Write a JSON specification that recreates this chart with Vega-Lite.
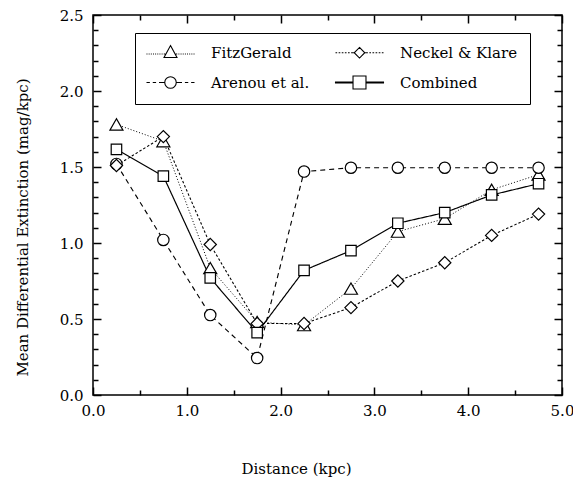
{
  "$schema": "https://vega.github.io/schema/vega-lite/v6.json",
  "width": 469,
  "height": 380,
  "autosize": {"type": "none"},
  "padding": {"left": 93, "top": 15, "right": 11, "bottom": 84},
  "background": "white",
  "config": {
    "view": {"stroke": "black", "strokeWidth": 1.5},
    "font": "DejaVu Serif",
    "axis": {
      "domain": false,
      "grid": false,
      "labelFont": "DejaVu Serif",
      "labelFontSize": 15,
      "labelColor": "black",
      "titleFont": "DejaVu Serif",
      "titleFontSize": 15,
      "titleFontWeight": "normal",
      "titleColor": "black",
      "labelFlush": false,
      "labelOverlap": false
    }
  },
  "data": {
    "values": [
      {"series": "FitzGerald", "distance": 0.25, "extinction": 1.78},
      {"series": "FitzGerald", "distance": 0.75, "extinction": 1.67},
      {"series": "FitzGerald", "distance": 1.25, "extinction": 0.835},
      {"series": "FitzGerald", "distance": 1.75, "extinction": 0.48},
      {"series": "FitzGerald", "distance": 2.25, "extinction": 0.46},
      {"series": "FitzGerald", "distance": 2.75, "extinction": 0.70},
      {"series": "FitzGerald", "distance": 3.25, "extinction": 1.075},
      {"series": "FitzGerald", "distance": 3.75, "extinction": 1.16},
      {"series": "FitzGerald", "distance": 4.25, "extinction": 1.35},
      {"series": "FitzGerald", "distance": 4.75, "extinction": 1.45},
      {"series": "Arenou et al.", "distance": 0.25, "extinction": 1.52},
      {"series": "Arenou et al.", "distance": 0.75, "extinction": 1.02},
      {"series": "Arenou et al.", "distance": 1.25, "extinction": 0.526},
      {"series": "Arenou et al.", "distance": 1.75, "extinction": 0.243},
      {"series": "Arenou et al.", "distance": 2.25, "extinction": 1.47},
      {"series": "Arenou et al.", "distance": 2.75, "extinction": 1.495},
      {"series": "Arenou et al.", "distance": 3.25, "extinction": 1.495},
      {"series": "Arenou et al.", "distance": 3.75, "extinction": 1.495},
      {"series": "Arenou et al.", "distance": 4.25, "extinction": 1.495},
      {"series": "Arenou et al.", "distance": 4.75, "extinction": 1.495},
      {"series": "Neckel & Klare", "distance": 0.25, "extinction": 1.51},
      {"series": "Neckel & Klare", "distance": 0.75, "extinction": 1.70},
      {"series": "Neckel & Klare", "distance": 1.25, "extinction": 0.99},
      {"series": "Neckel & Klare", "distance": 1.75, "extinction": 0.47},
      {"series": "Neckel & Klare", "distance": 2.25, "extinction": 0.47},
      {"series": "Neckel & Klare", "distance": 2.75, "extinction": 0.575},
      {"series": "Neckel & Klare", "distance": 3.25, "extinction": 0.75},
      {"series": "Neckel & Klare", "distance": 3.75, "extinction": 0.87},
      {"series": "Neckel & Klare", "distance": 4.25, "extinction": 1.05},
      {"series": "Neckel & Klare", "distance": 4.75, "extinction": 1.19},
      {"series": "Combined", "distance": 0.25, "extinction": 1.616},
      {"series": "Combined", "distance": 0.75, "extinction": 1.44},
      {"series": "Combined", "distance": 1.25, "extinction": 0.77},
      {"series": "Combined", "distance": 1.75, "extinction": 0.41},
      {"series": "Combined", "distance": 2.25, "extinction": 0.82},
      {"series": "Combined", "distance": 2.75, "extinction": 0.95},
      {"series": "Combined", "distance": 3.25, "extinction": 1.13},
      {"series": "Combined", "distance": 3.75, "extinction": 1.20},
      {"series": "Combined", "distance": 4.25, "extinction": 1.316},
      {"series": "Combined", "distance": 4.75, "extinction": 1.39}
    ]
  },
  "layer": [
    {
      "mark": {"type": "line", "color": "black"},
      "encoding": {
        "x": {
          "field": "distance", "type": "quantitative",
          "scale": {"domain": [0, 5], "nice": false, "zero": false},
          "axis": {
            "orient": "bottom",
            "ticks": true,
            "tickSize": -8,
            "tickWidth": 1.5,
            "tickColor": "black",
            "labelPadding": 16,
            "title": "Distance (kpc)",
            "titleX": 203,
            "titleY": 73,
            "titleAlign": "center",
            "titleBaseline": "middle",
            "values": [0, 1, 2, 3, 4, 5],
            "format": ".1f"
          }
        },
        "y": {
          "field": "extinction", "type": "quantitative",
          "scale": {"domain": [0, 2.5], "nice": false},
          "axis": {
            "orient": "left",
            "ticks": true,
            "tickSize": -8,
            "tickWidth": 1.5,
            "tickColor": "black",
            "labelPadding": 18,
            "title": "Mean Differential Extinction (mag/kpc)",
            "titleX": -71,
            "titleY": 212,
            "titleAngle": -90,
            "titleAlign": "center",
            "titleBaseline": "middle",
            "values": [0, 0.5, 1, 1.5, 2, 2.5],
            "format": ".1f"
          }
        },
        "strokeDash": {
          "field": "series", "type": "nominal",
          "scale": {"domain": ["FitzGerald", "Neckel & Klare", "Arenou et al.", "Combined"], "range": [[1, 2], [2.5, 2], [5, 4], [1, 0]]},
          "legend": null
        },
        "strokeWidth": {
          "field": "series", "type": "nominal",
          "scale": {"domain": ["FitzGerald", "Neckel & Klare", "Arenou et al.", "Combined"], "range": [1, 1.2, 1.1, 2.5]},
          "legend": null
        }
      }
    },
    {
      "mark": {"type": "point", "filled": true, "fill": "white", "stroke": "black", "strokeWidth": 1.2, "opacity": 1},
      "encoding": {
        "x": {
          "field": "distance", "type": "quantitative",
          "axis": {"orient": "top", "ticks": true, "tickSize": -8, "tickWidth": 1.5, "tickColor": "black", "title": null, "labels": false, "values": [0, 1, 2, 3, 4, 5]}
        },
        "y": {
          "field": "extinction", "type": "quantitative",
          "axis": {"orient": "right", "ticks": true, "tickSize": -8, "tickWidth": 1.5, "tickColor": "black", "title": null, "labels": false, "values": [0, 0.5, 1, 1.5, 2, 2.5]}
        },
        "shape": {
          "field": "series", "type": "nominal",
          "scale": {"domain": ["FitzGerald", "Neckel & Klare", "Arenou et al.", "Combined"], "range": ["triangle-up", "diamond", "circle", "square"]},
          "legend": null
        },
        "size": {
          "field": "series", "type": "nominal",
          "scale": {"domain": ["FitzGerald", "Neckel & Klare", "Arenou et al.", "Combined"], "range": [170, 110, 115, 200]},
          "legend": null
        }
      }
    },
    {
      "mark": {"type": "point", "opacity": 0, "color": "black"},
      "encoding": {
        "x": {
          "field": "distance", "type": "quantitative",
          "axis": {"orient": "bottom", "ticks": true, "tickSize": -5, "tickWidth": 1.5, "tickColor": "black", "title": null, "labels": false, "values": [0.5, 1.5, 2.5, 3.5, 4.5]}
        },
        "y": {
          "field": "extinction", "type": "quantitative",
          "axis": {"orient": "left", "ticks": true, "tickSize": -5, "tickWidth": 1.5, "tickColor": "black", "title": null, "labels": false, "values": [0.1, 0.2, 0.3, 0.4, 0.6, 0.7, 0.8, 0.9, 1.1, 1.2, 1.3, 1.4, 1.6, 1.7, 1.8, 1.9, 2.1, 2.2, 2.3, 2.4]}
        }
      }
    },
    {
      "mark": {"type": "point", "opacity": 0, "color": "black"},
      "encoding": {
        "x": {
          "field": "distance", "type": "quantitative",
          "axis": {"orient": "top", "ticks": true, "tickSize": -5, "tickWidth": 1.5, "tickColor": "black", "title": null, "labels": false, "values": [0.5, 1.5, 2.5, 3.5, 4.5]}
        },
        "y": {
          "field": "extinction", "type": "quantitative",
          "axis": {"orient": "right", "ticks": true, "tickSize": -5, "tickWidth": 1.5, "tickColor": "black", "title": null, "labels": false, "values": [0.1, 0.2, 0.3, 0.4, 0.6, 0.7, 0.8, 0.9, 1.1, 1.2, 1.3, 1.4, 1.6, 1.7, 1.8, 1.9, 2.1, 2.2, 2.3, 2.4]}
        },
        "shape": {
          "field": "series", "type": "nominal",
          "scale": {
            "domain": ["FitzGerald", "Arenou et al.", "Neckel & Klare", "Combined"],
            "range": [
              "M-1.333,0.2L-1.173,0.2M-0.973,0.2L-0.813,0.2M-0.613,0.2L-0.453,0.2M-0.253,0.2L-0.093,0.2M0.107,0.2L0.267,0.2M0.467,0.2L0.627,0.2M0.827,0.2L0.987,0.2M1.187,0.2L1.347,0.2M1.547,0.2L1.787,0.2M3.547,0.2L3.787,0.2M3.987,0.2L4.147,0.2M4.347,0.2L4.507,0.2M4.707,0.2L4.867,0.2M5.067,0.2L5.227,0.2M5.427,0.2L5.587,0.2M5.787,0.2L5.947,0.2M6.147,0.2L6.307,0.2M6.507,0.2L6.667,0.2M2.667,-1.2L3.747,0.8L1.587,0.8Z",
              "M-1.333,0L-0.773,0M-0.293,0L0.267,0M0.747,0L1.627,0M3.707,0L4.587,0M5.067,0L5.627,0M6.107,0L6.667,0M1.707,0A0.96,0.96,0,1,0,3.627,0A0.96,0.96,0,1,0,1.707,0Z",
              "M-1.333,0L-1.053,0M-0.813,0L-0.533,0M-0.293,0L-0.013,0M0.227,0L0.507,0M0.747,0L1.027,0M1.267,0L1.707,0M3.627,0L4.067,0M4.307,0L4.587,0M4.827,0L5.107,0M5.347,0L5.627,0M5.867,0L6.147,0M6.387,0L6.667,0M2.667,-0.88L3.547,0L2.667,0.88L1.787,0Z",
              "M-1.333,-0.08L1.587,-0.08L1.587,0.08L-1.333,0.08ZM3.747,-0.08L6.667,-0.08L6.667,0.08L3.747,0.08ZM1.587,-1.08L3.747,-1.08L3.747,1.08L1.587,1.08Z"
            ]
          },
          "legend": {
            "title": null,
            "orient": "none",
            "legendX": 42,
            "legendY": 18,
            "columns": 2,
            "columnPadding": 23,
            "rowPadding": 12,
            "padding": 12,
            "strokeColor": "black",
            "fillColor": "white",
            "symbolSize": 144,
            "symbolStrokeColor": "black",
            "symbolStrokeWidth": 1.1,
            "labelOffset": 49,
            "labelFont": "DejaVu Serif",
            "labelFontSize": 15,
            "labelColor": "black",
            "labelLimit": 300,
            "encode": {
              "symbols": {"update": {"opacity": {"value": 1}, "stroke": {"value": "black"}, "strokeWidth": {"value": 1.1}}}
            }
          }
        }
      }
    }
  ],
  "resolve": {
    "scale": {"shape": "independent"},
    "axis": {"x": "independent", "y": "independent"},
    "legend": {"shape": "independent"}
  }
}
